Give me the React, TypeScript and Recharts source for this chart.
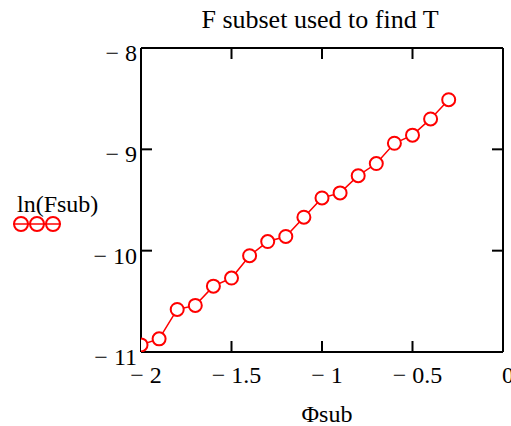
import React from 'react';
import { LineChart, Line, XAxis, YAxis } from 'recharts';

// Φsub values and ln(Fsub) readings for the subset
const phiSub = [-2.0, -1.9, -1.8, -1.7, -1.6, -1.5, -1.4, -1.3, -1.2, -1.1, -1.0, -0.9, -0.8, -0.7, -0.6, -0.5, -0.4, -0.3];
const lnFsub = [-10.93, -10.87, -10.58, -10.54, -10.35, -10.27, -10.05, -9.91, -9.86, -9.67, -9.48, -9.43, -9.26, -9.14, -8.94, -8.86, -8.70, -8.51];

const xTicks = [-2, -1.5, -1, -0.5, 0];
const yTicks = [-11, -10, -9, -8];

const RED = '#ff0000';
const FONT = '"Liberation Serif", "Times New Roman", serif';

const data = phiSub.map((x, i) => ({ x, y: lnFsub[i] }));

// Mathcad-style numbers: spaced minus sign
const fmt = (v: number) => (v < 0 ? `\u2212 ${Math.abs(v)}` : `${v}`);

const XTick = (props: any) => (
  <text x={props.x + 5} y={props.y + 31} textAnchor="middle" fontFamily={FONT} fontSize={24} fill="#000">
    {fmt(props.payload.value)}
  </text>
);

const YTick = (props: any) => (
  <text x={props.x - 4} y={props.y + 13} textAnchor="end" fontFamily={FONT} fontSize={24} fill="#000">
    {fmt(props.payload.value)}
  </text>
);

const NoTick = () => <g />;

// markers are clipped to the plot box like the line
const Marker = (props: any) => (
  <circle
    key={props.index}
    cx={props.cx}
    cy={props.cy}
    r={6.5}
    stroke={RED}
    strokeWidth={2}
    fill="#fff"
    clipPath="url(#plot-box)"
  />
);

const axisLine = { stroke: '#000', strokeWidth: 2 };
const tickLine = { stroke: '#000', strokeWidth: 2 };

export default function App() {
  return (
    <div style={{ position: 'relative', width: 511, height: 426, background: '#fff', overflow: 'hidden' }}>
      <style>{'body{margin:0}'}</style>
      <LineChart width={511} height={426} data={data} margin={{ top: 47, right: 7, bottom: 0, left: 0 }}>
        <defs>
          <clipPath id="plot-box">
            <rect x={141} y={48} width={362} height={304} />
          </clipPath>
        </defs>
        <XAxis
          dataKey="x"
          type="number"
          domain={[-2, 0]}
          ticks={xTicks}
          height={74}
          tickSize={-11}
          tickMargin={11}
          axisLine={axisLine}
          tickLine={tickLine}
          tick={XTick}
          interval={0}
          label={{ value: 'Φsub', position: 'insideBottom', offset: 4, dx: 5, fontFamily: FONT, fontSize: 24, fill: '#000' }}
        />
        {/* top and right axes only close the frame and carry inner ticks */}
        <XAxis
          xAxisId="top"
          dataKey="x"
          orientation="top"
          type="number"
          domain={[-2, 0]}
          ticks={xTicks}
          height={1}
          tickSize={-11}
          axisLine={axisLine}
          tickLine={tickLine}
          tick={NoTick}
          interval={0}
        />
        <YAxis
          type="number"
          domain={[-11, -8]}
          ticks={yTicks}
          width={141}
          tickSize={-11}
          tickMargin={11}
          axisLine={axisLine}
          tickLine={tickLine}
          tick={YTick}
          interval={0}
        />
        <YAxis
          yAxisId="right"
          orientation="right"
          type="number"
          domain={[-11, -8]}
          ticks={yTicks}
          width={1}
          tickSize={-11}
          axisLine={axisLine}
          tickLine={tickLine}
          tick={NoTick}
          interval={0}
        />
        <Line
          xAxisId="top"
          yAxisId="right"
          dataKey="y"
          stroke="none"
          dot={false}
          activeDot={false}
          isAnimationActive={false}
        />
        <Line
          dataKey="y"
          stroke={RED}
          strokeWidth={1.5}
          dot={Marker}
          isAnimationActive={false}
        />
      </LineChart>

      <svg style={{ position: 'absolute', left: 0, top: 0 }} width={511} height={40}>
        <text x={320} y={28} textAnchor="middle" fontFamily={FONT} fontSize={26} fill="#000">
          F subset used to find T
        </text>
      </svg>

      {/* series key on the left */}
      <svg style={{ position: 'absolute', left: 0, top: 185 }} width={110} height={50}>
        <text x={17} y={27} fontFamily={FONT} fontSize={24} fill="#000">ln(Fsub)</text>
        <line x1={13} y1={39} x2={61} y2={39} stroke={RED} strokeWidth={1.5} />
        {[21, 37, 53].map((cx) => (
          <circle key={cx} cx={cx} cy={39} r={7} stroke={RED} strokeWidth={2} fill="none" />
        ))}
      </svg>
    </div>
  );
}
